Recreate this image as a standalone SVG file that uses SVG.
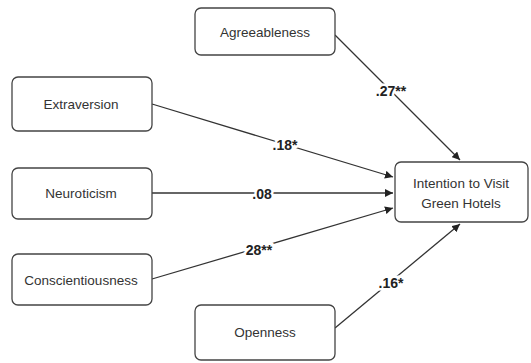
<svg xmlns="http://www.w3.org/2000/svg" width="531" height="363" viewBox="0 0 531 363">
<style>
.box{fill:#fff;stroke:#444;stroke-width:1.3}
.t{font-family:"Liberation Sans",Arial,sans-serif;font-size:13.5px;fill:#333;text-anchor:middle;dominant-baseline:central}
.lbl{font-family:"Liberation Sans",Arial,sans-serif;font-size:14px;font-weight:bold;fill:#222;text-anchor:middle;dominant-baseline:central;stroke:#fff;stroke-width:5;paint-order:stroke}
.c{stroke:#333;stroke-width:1.3;fill:none;marker-end:url(#ah)}
</style>
<defs>
<marker id="ah" viewBox="0 0 10 10" refX="10" refY="5" markerWidth="8" markerHeight="8" markerUnits="userSpaceOnUse" orient="auto">
<path d="M0,0 L10,5 L0,10 z" fill="#222"/>
</marker>
</defs>
<rect width="531" height="363" fill="#fff"/>
<g id="connectors">
<line class="c" x1="335" y1="35" x2="460" y2="160"/>
<line class="c" x1="152" y1="104" x2="393" y2="177"/>
<line class="c" x1="152" y1="193" x2="393" y2="193"/>
<line class="c" x1="152" y1="279" x2="393" y2="208"/>
<line class="c" x1="335" y1="328" x2="460" y2="224"/>
<text class="lbl" x="391" y="91">.27**</text>
<text class="lbl" x="285" y="145">.18*</text>
<text class="lbl" x="262" y="194">.08</text>
<text class="lbl" x="259" y="250">28**</text>
<text class="lbl" x="391" y="283">.16*</text>
</g>
<g id="agreeableness">
<rect class="box" x="195" y="8" width="140" height="47" rx="6"/>
<text class="t" x="265" y="32">Agreeableness</text>
</g>
<g id="extraversion">
<rect class="box" x="12" y="77" width="140" height="54" rx="6"/>
<text class="t" x="81" y="104">Extraversion</text>
</g>
<g id="neuroticism">
<rect class="box" x="12" y="168" width="140" height="51" rx="6"/>
<text class="t" x="81" y="193">Neuroticism</text>
</g>
<g id="conscientiousness">
<rect class="box" x="12" y="254" width="140" height="51" rx="6"/>
<text class="t" x="81" y="280">Conscientiousness</text>
</g>
<g id="openness">
<rect class="box" x="195" y="305" width="140" height="55" rx="6"/>
<text class="t" x="265" y="332">Openness</text>
</g>
<g id="intention">
<rect class="box" x="395" y="162" width="133" height="60" rx="6"/>
<text class="t" x="461" y="183">Intention to Visit</text>
<text class="t" x="461" y="203">Green Hotels</text>
</g>
</svg>
